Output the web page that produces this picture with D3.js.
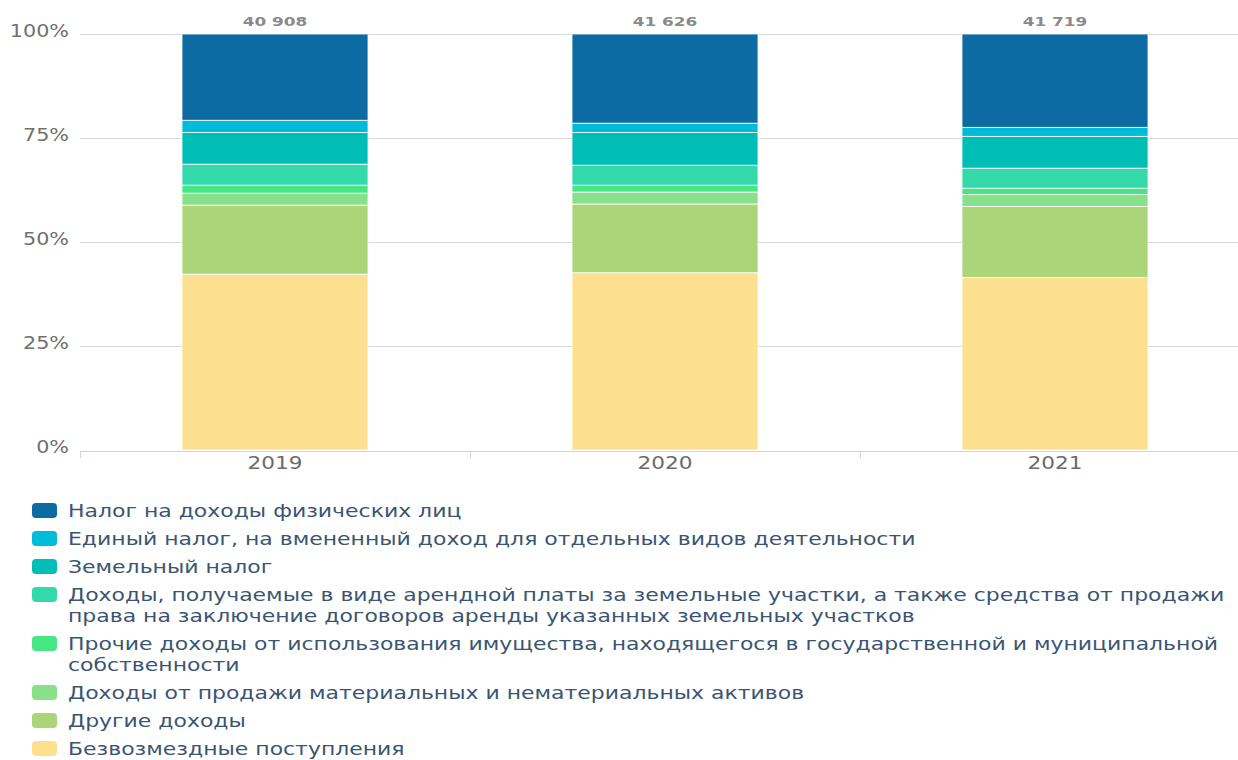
<!DOCTYPE html>
<html>
<head>
<meta charset="utf-8">
<script src="https://cdn.jsdelivr.net/npm/d3@7"></script>
<style>
  body { margin: 0; background: #fff; }
  text { font-family: "DejaVu Sans", Verdana, sans-serif; }
</style>
</head>
<body>
<svg id="chart" width="1238" height="760"></svg>
<script>
// data (shares of total, %)
const years = ["2019", "2020", "2021"]
const totals = [40908, 41626, 41719]
const seriesNames = [
  "Налог на доходы физических лиц",
  "Единый налог, на вмененный доход для отдельных видов деятельности",
  "Земельный налог",
  "Доходы, получаемые в виде арендной платы за земельные участки, а также средства от продажи права на заключение договоров аренды указанных земельных участков",
  "Прочие доходы от использования имущества, находящегося в государственной и муниципальной собственности",
  "Доходы от продажи материальных и нематериальных активов",
  "Другие доходы",
  "Безвозмездные поступления"
]
const ndfl     = [20.75, 21.44, 22.45]
const envd     = [2.93, 2.24, 2.17]
const zemNalog = [7.62, 7.86, 7.64]
const arenda   = [5.05, 4.81, 4.81]
const prochie  = [1.92, 1.65, 1.51]
const prodazha = [2.88, 2.87, 2.89]
const drugie   = [16.59, 16.51, 17.06]
const bezvozm  = [42.26, 42.62, 41.47]
const yTicks = [0, 0.25, 0.5, 0.75, 1]

const seriesValues = [ndfl, envd, zemNalog, arenda, prochie, prodazha, drugie, bezvozm]
const colors = ["#0d6ba3", "#00bcd9", "#00bdb6", "#34d9aa", "#47e584", "#89e08a", "#acd479", "#fde08f"]

// table for d3.stack
let table = years.map((y, i) => {
  let row = {year: y}
  seriesNames.forEach((s, k) => row[s] = seriesValues[k][i])
  return row
})
let stackKeys = seriesNames.slice().reverse()   // bottom first
let stacked = d3.stack().keys(stackKeys).offset(d3.stackOffsetExpand)(table)

let svg = d3.select("#chart")
let W = 1238
let plotTop = 34, plotBottom = 450

let xScale = d3.scaleBand().domain(years).range([80, 1250]).paddingInner(0.523).paddingOuter(0.2615)
let yScale = d3.scaleLinear().domain([0, 1]).range([plotBottom, plotTop])
let colorScale = d3.scaleOrdinal().domain(seriesNames).range(colors)

// gridlines
svg.append("g").selectAll("line")
  .data(yTicks.filter(d => d > 0))
  .enter().append("line")
  .attr("x1", 80).attr("x2", W)
  .attr("y1", d => yScale(d) + 0.5).attr("y2", d => yScale(d) + 0.5)
  .attr("stroke", "#d9d9d9").attr("stroke-width", 1)

// y labels
svg.append("g").selectAll("text")
  .data(yTicks)
  .enter().append("text")
  .attr("transform", d => `translate(69,${yScale(d) + 3}) scale(1.15,1)`)
  .attr("text-anchor", "end")
  .style("font-size", "18px")
  .style("fill", "#707070")
  .text(d => d3.format(".0%")(d))

// bars
svg.append("g").selectAll("g")
  .data(stacked)
  .enter().append("g")
  .attr("fill", d => colorScale(d.key))
  .selectAll("rect")
  .data(d => d)
  .enter().append("rect")
  .attr("x", d => xScale(d.data.year))
  .attr("width", xScale.bandwidth())
  .attr("y", d => yScale(d[1]))
  .attr("height", d => yScale(d[0]) - yScale(d[1]))
  .attr("stroke", "#ffffff")
  .attr("stroke-opacity", 0.8)
  .attr("stroke-width", 1)

// x axis
let step = xScale.step()
let boundaries = years.map(y => xScale(y) - step * xScale.paddingInner() / 2).concat([1250])
svg.append("line")
  .attr("x1", 80).attr("x2", W)
  .attr("y1", plotBottom + 1.5).attr("y2", plotBottom + 1.5)
  .attr("stroke", "#ccd6eb").attr("stroke-width", 1)
svg.append("g").selectAll("line")
  .data(boundaries)
  .enter().append("line")
  .attr("x1", d => d + 0.5).attr("x2", d => d + 0.5)
  .attr("y1", plotBottom + 1).attr("y2", plotBottom + 8)
  .attr("stroke", "#ccd6eb")
svg.append("g").selectAll("text")
  .data(years)
  .enter().append("text")
  .attr("transform", d => `translate(${xScale(d) + xScale.bandwidth() / 2},${plotBottom + 19}) scale(1.2,1)`)
  .attr("text-anchor", "middle")
  .style("font-size", "18px")
  .style("fill", "#6b6b6b")
  .text(d => d)

// totals above bars
svg.append("g").selectAll("text")
  .data(years)
  .enter().append("text")
  .attr("transform", (d, i) => `translate(${xScale(d) + xScale.bandwidth() / 2},26) scale(1.3,1)`)
  .attr("text-anchor", "middle")
  .style("font-size", "13px")
  .style("font-weight", "bold")
  .style("fill", "#8a8a8a")
  .text((d, i) => d3.format(",")(totals[i]).replace(/,/g, " "))

// legend
let legendSx = 1.22
let maxW = 1180 / legendSx
let legend = svg.append("g")
let yPos = 517
seriesNames.forEach((name, k) => {
  legend.append("rect")
    .attr("x", 32).attr("y", yPos - 14)
    .attr("width", 25).attr("height", 15)
    .attr("rx", 4)
    .attr("fill", colors[k])
  let t = legend.append("text")
    .attr("transform", `translate(68,${yPos}) scale(${legendSx},1)`)
    .style("font-size", "18px")
    .style("fill", "#3a5572")
  // word wrap
  let words = name.split(" ")
  let line = []
  let lines = []
  let probe = t.append("tspan")
  words.forEach(w => {
    line.push(w)
    probe.text(line.join(" "))
    if (probe.node().getComputedTextLength() > maxW && line.length > 1) {
      line.pop()
      lines.push(line.join(" "))
      line = [w]
    }
  })
  lines.push(line.join(" "))
  probe.remove()
  lines.forEach((l, j) => {
    t.append("tspan").attr("x", 0).attr("y", j * 21).text(l)
  })
  yPos += (lines.length - 1) * 21 + 28
})
</script>
</body>
</html>
